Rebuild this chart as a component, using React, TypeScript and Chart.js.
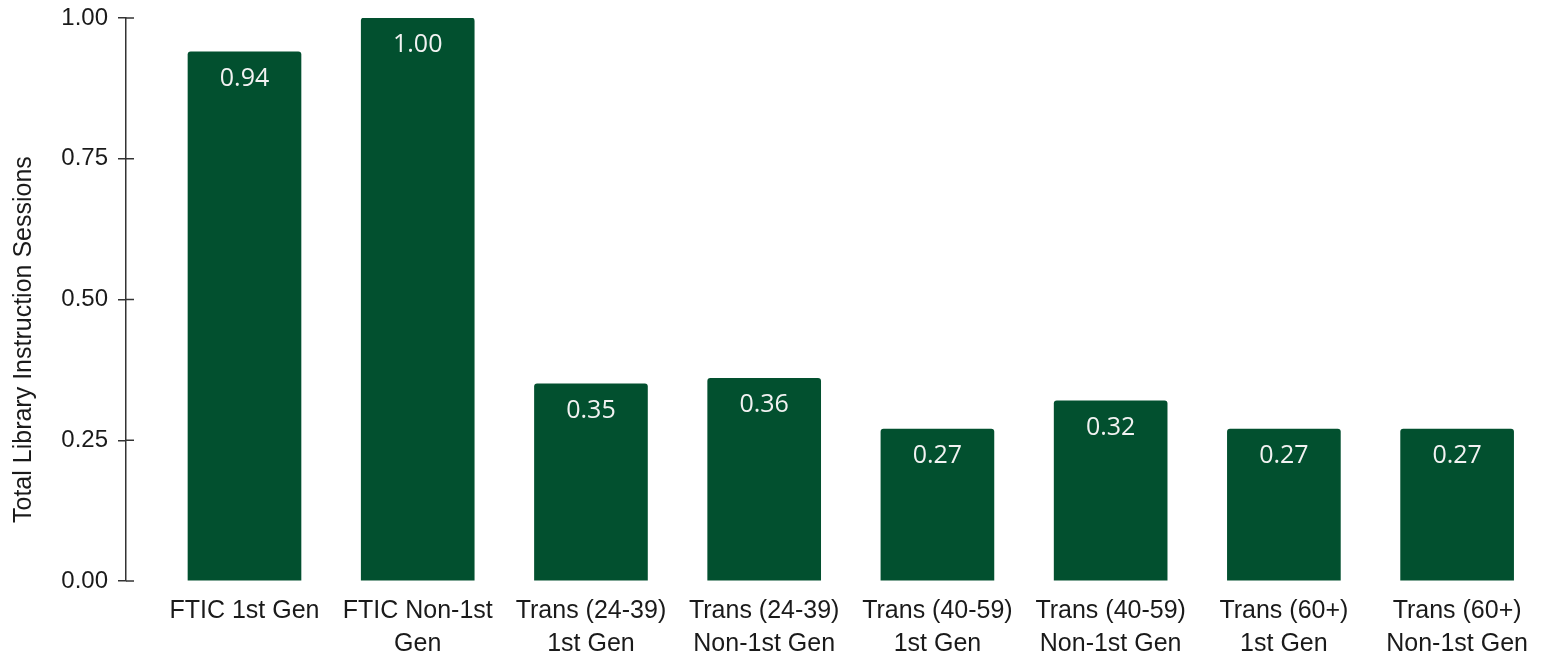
import React, { useEffect, useRef } from "react";
import { Chart, registerables } from "chart.js";

Chart.register(...registerables);

const categories: string[][] = [
  ["FTIC 1st Gen"],
  ["FTIC Non-1st", "Gen"],
  ["Trans (24-39)", "1st Gen"],
  ["Trans (24-39)", "Non-1st Gen"],
  ["Trans (40-59)", "1st Gen"],
  ["Trans (40-59)", "Non-1st Gen"],
  ["Trans (60+)", "1st Gen"],
  ["Trans (60+)", "Non-1st Gen"],
];
const values: number[] = [0.94, 1.0, 0.35, 0.36, 0.27, 0.32, 0.27, 0.27];
const yTicks: number[] = [0, 0.25, 0.5, 0.75, 1.0];
const yTitle = "Total Library Instruction Sessions";

const BAR_COLOR = "#02502f";
const AXIS_COLOR = "#333333";
const TEXT_COLOR = "#1a1a1a";
const SANS = "'Liberation Sans', Arial, sans-serif";

export default function App() {
  const canvasRef = useRef<HTMLCanvasElement | null>(null);

  useEffect(() => {
    if (!canvasRef.current) return;

    const valueLabelPlugin = {
      id: "valueLabels",
      afterDatasetsDraw(chart: any) {
        const ctx = chart.ctx;
        const meta = chart.getDatasetMeta(0);
        ctx.save();
        ctx.fillStyle = "#f2f2f2";
        ctx.font = "25px 'Open Sans', 'Noto Sans', sans-serif";
        ctx.textAlign = "center";
        ctx.textBaseline = "middle";
        meta.data.forEach((bar: any, i: number) => {
          ctx.fillText(values[i].toFixed(2), bar.x, bar.y + 27);
        });
        ctx.restore();
      },
    };

    const axisExtrasPlugin = {
      id: "axisExtras",
      afterDraw(chart: any) {
        const ctx = chart.ctx;
        const y = chart.scales.y;
        const x0 = chart.chartArea.left;
        ctx.save();
        ctx.strokeStyle = AXIS_COLOR;
        ctx.lineWidth = 1.5;
        y.ticks.forEach((t: any) => {
          const py = y.getPixelForValue(t.value);
          ctx.beginPath();
          ctx.moveTo(x0, py);
          ctx.lineTo(x0 + 8, py);
          ctx.stroke();
        });
        // axis title
        ctx.fillStyle = TEXT_COLOR;
        ctx.font = `25px ${SANS}`;
        ctx.textAlign = "center";
        ctx.textBaseline = "middle";
        ctx.translate(24, chart.height * 0.52);
        ctx.rotate(-Math.PI / 2);
        ctx.fillText(yTitle, 0, 0);
        ctx.restore();
      },
    };

    const chart = new Chart(canvasRef.current, {
      type: "bar",
      data: {
        datasets: [
          {
            data: values.map((v, i) => ({ x: i, y: v })),
            backgroundColor: BAR_COLOR,
            borderWidth: 0,
            borderRadius: { topLeft: 3, topRight: 3, bottomLeft: 0, bottomRight: 0 },
            borderSkipped: "bottom",
            barThickness: 113,
          },
        ],
      },
      options: {
        animation: false,
        responsive: true,
        maintainAspectRatio: false,
        layout: { padding: { top: 18, right: 0, left: 0, bottom: 0 } },
        plugins: {
          legend: { display: false },
          tooltip: { enabled: false },
          title: { display: false },
        },
        scales: {
          x: {
            type: "linear",
            offset: false,
            min: -0.684,
            max: 7.49,
            grid: { display: false, drawTicks: false },
            border: { display: false },
            afterBuildTicks(scale: any) {
              scale.ticks = categories.map((_, i) => ({ value: i }));
            },
            afterFit(scale: any) {
              scale.height = 72;
              scale.paddingLeft = 0;
              scale.paddingRight = 0;
            },
            ticks: {
              autoSkip: false,
              maxRotation: 0,
              minRotation: 0,
              padding: 13,
              color: TEXT_COLOR,
              font: { family: SANS, size: 25, lineHeight: 1.33 },
              callback: (v: any) => categories[Math.round(Number(v))] ?? "",
            },
          },
          y: {
            type: "linear",
            min: 0,
            max: 1,
            afterBuildTicks(scale: any) {
              scale.ticks = yTicks.map((v) => ({ value: v }));
            },
            afterFit(scale: any) {
              scale.width = 126;
              scale.paddingTop = 0;
              scale.paddingBottom = 0;
            },
            grid: {
              display: true,
              drawOnChartArea: false,
              drawTicks: true,
              tickLength: 8,
              color: AXIS_COLOR,
              lineWidth: 1.5,
            },
            border: { display: true, color: AXIS_COLOR, width: 1.5 },
            ticks: {
              padding: 10,
              color: TEXT_COLOR,
              font: { family: SANS, size: 24 },
              callback: (v: any) => Number(v).toFixed(2),
            },
          },
        },
      },
      plugins: [valueLabelPlugin, axisExtrasPlugin],
    } as any);

    return () => chart.destroy();
  }, []);

  return (
    <div style={{ position: "absolute", left: 0, top: 0, width: 1542, height: 653, background: "#fff" }}>
      <canvas ref={canvasRef} />
    </div>
  );
}
